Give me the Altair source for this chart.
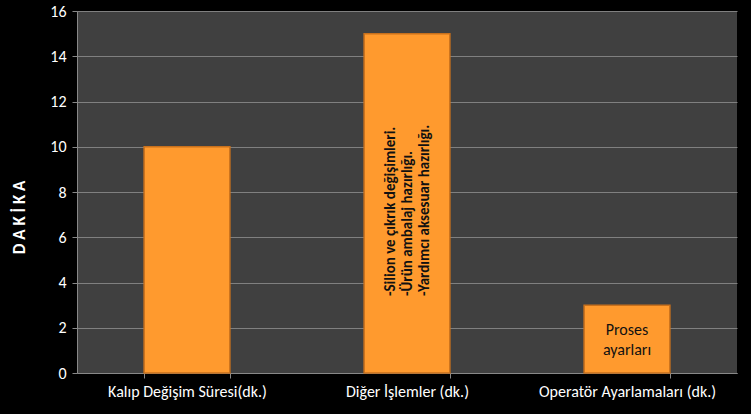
import altair as alt
import pandas as pd

categories = ["Kalıp Değişim Süresi(dk.)", "Diğer İşlemler (dk.)", "Operatör Ayarlamaları (dk.)"]
values = [10, 15, 3]
notes = ["", "-Silion ve çıkrık değişimleri.\n-Ürün ambalaj hazırlığı.\n-Yardımcı aksesuar hazırlığı.", "Proses\nayarları"]
note_y = [0, 3.4, 1.9]

FONT = "Carlito, Liberation Sans Narrow, DejaVu Sans Condensed, sans-serif"

df = pd.DataFrame({"cat": categories, "val": values})
df_v = pd.DataFrame({"cat": [categories[1]], "note": [notes[1]], "y": [note_y[1]]})
df_h = pd.DataFrame({"cat": [categories[2]], "note": [notes[2]], "y": [note_y[2]]})

x = alt.X("cat:N", sort=categories, title=None,
          scale=alt.Scale(paddingInner=0.61, paddingOuter=0.305),
          axis=alt.Axis(labelAngle=0, labelColor="#ffffff", labelFont=FONT, labelFontSize=16,
                        domainColor="#888888", tickColor="#888888", tickSize=5,
                        tickBand="extent", labelPadding=5, grid=False))

bars = alt.Chart(df).mark_bar(color="#FF9A2E", stroke="#C8701C", strokeWidth=1.5).encode(
    x=x,
    y=alt.Y("val:Q", scale=alt.Scale(domain=[0, 16]),
            axis=alt.Axis(values=list(range(0, 17, 2)), title="D A K İ K A",
                          titleColor="#ffffff", titleFont=FONT, titleFontSize=17, titleFontWeight="bold",
                          titleAngle=270, titleX=-58, titleY=206, titleAlign="center", titleBaseline="middle",
                          labelColor="#ffffff", labelFont=FONT, labelFontSize=16, labelPadding=6,
                          domainColor="#888888", tickColor="#888888", tickSize=5,
                          gridColor="#808080", gridWidth=1)),
)

vtext = alt.Chart(df_v).mark_text(angle=270, align="left", baseline="middle", lineBreak="\n",
                                  lineHeight=17, fontSize=15, font=FONT, fontWeight="bold",
                                  color="#111111").encode(
    x=alt.X("cat:N", sort=categories), xOffset=alt.value(26), y=alt.Y("y:Q"), text="note:N")

htext = alt.Chart(df_h).mark_text(align="center", baseline="middle", lineBreak="\n",
                                  lineHeight=20, fontSize=16, font=FONT,
                                  color="#111111").encode(
    x=alt.X("cat:N", sort=categories), y=alt.Y("y:Q"), text="note:N")

chart = alt.layer(bars, vtext, htext).properties(
    width=660, height=362,
    background="#000000",
    padding={"left": 77, "top": 11, "right": 14, "bottom": 41},
    autosize=alt.AutoSizeParams(type="none"),
).configure_view(fill="#404040", stroke=None)

chart.save("out.html", embed_options={"renderer": "svg", "actions": False})
